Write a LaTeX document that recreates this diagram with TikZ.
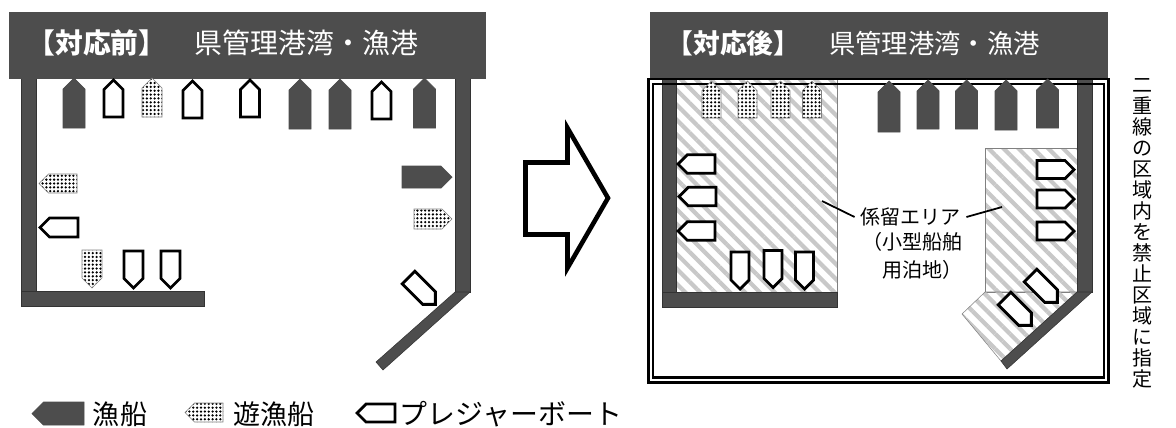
\documentclass[tikz,border=0pt]{standalone}
\usepackage{xcolor}
\usepackage{fontspec}
\setmainfont{Noto Sans CJK JP}
\usetikzlibrary{patterns.meta}
\definecolor{wallgray}{RGB}{77, 77, 77}
\definecolor{stripegray}{RGB}{200, 200, 200}
\newcommand{\boat}[6][]{\draw[#1, shift={(#2,#3)}, rotate=#6] (-#4/2,0) -- (-#4/2,#4/2-#5) -- (0,-#5) -- (#4/2,#4/2-#5) -- (#4/2,0) -- cycle;}

\begin{document}
\begin{tikzpicture}[
        x=0.02cm, y=-0.02cm,
        wall/.style={fill=wallgray, draw=black!80, line width=0.3pt},
        banner/.style={rectangle, fill=wallgray, draw=wallgray, text=white, inner sep=0pt},
        titletext/.style={text=white, inner sep=0pt},
        fishboat/.style={fill=wallgray, draw=black!70, line width=0.4pt},
        yachtboat/.style={fill=white, draw=black, line width=1.6pt, miter limit=4},
        dotboat/.style={preaction={fill=white}, pattern={Dots[distance=2.2pt, radius=0.72pt]}, pattern color=black, draw=gray, line width=0.3pt},
        area/.style={pattern={Lines[angle=-45, distance=6pt, line width=2.4pt]}, pattern color=stripegray, draw=gray, line width=0.3pt},
        label/.style={font=\fontsize{11.4}{15.65}\selectfont, inner sep=0pt},
        legendtext/.style={font=\fontsize{15.4}{18}\selectfont, inner sep=0pt}
    ]
    \useasboundingbox (0,0) rectangle (1176,427);

    % Before: harbour
    \filldraw[wall] (21,78) rectangle (36,292);
    \filldraw[wall] (21,291) rectangle (204,306);
    \filldraw[wall] (455,78) rectangle (470,292);
    \filldraw[wall] (455,292) -- (470,292) -- (383,370) -- (376,362) -- cycle;
    \node[banner, minimum width=476*0.02cm, minimum height=66*0.02cm] (barbefore) at (247.75,45) {};
    \node[titletext, font=\fontsize{15.8}{18}\selectfont\bfseries] (titlebefore) at (97,43) {【対応前】};
    \node[titletext, font=\fontsize{15.9}{18}\selectfont] (portbefore) at (306.5,43) {県管理港湾・漁港};

    % Before: boats
    \boat[fishboat]{74}{128}{22}{50}{0}
    \boat[yachtboat]{113.5}{117}{19}{37}{0}
    \boat[dotboat]{152}{117}{20}{39}{0}
    \boat[yachtboat]{192.5}{118}{19}{37}{0}
    \boat[yachtboat]{250}{117}{19}{37}{0}
    \boat[fishboat]{300}{129}{22}{50}{0}
    \boat[fishboat]{340}{129}{22}{50}{0}
    \boat[yachtboat]{381.5}{119}{19}{37}{0}
    \boat[fishboat]{424.5}{128}{22}{50}{0}
    \boat[dotboat]{77}{183.5}{19}{38}{90}
    \boat[yachtboat]{78}{227.5}{19}{38}{90}
    \boat[fishboat]{402}{177}{22}{50}{-90}
    \boat[dotboat]{414}{219}{20}{38}{-90}
    \boat[dotboat]{92}{250}{20}{38}{180}
    \boat[yachtboat]{133.5}{251}{19}{37}{180}
    \boat[yachtboat]{170.5}{251}{19}{37}{180}
    \boat[yachtboat]{408.5}{277.5}{18}{38}{-135}

    % Arrow
    \draw[line width=2.6pt, miter limit=8, fill=white] (525.5,162.5) -- (567.5,162.5) -- (567.5,128) -- (608,198) -- (567.5,268) -- (567.5,234.5) -- (525.5,234.5) -- cycle;

    % After: mooring areas
    \filldraw[area] (676,78) rectangle (837,292);
    \filldraw[area] (985,148) rectangle (1077,292);
    \filldraw[area] (985,292) -- (1077,292) -- (1001,361) -- (962,314) -- cycle;

    % After: harbour
    \filldraw[wall] (662,78) rectangle (676,292);
    \filldraw[wall] (662,292) rectangle (837,307);
    \filldraw[wall] (1077,78) rectangle (1092,292);
    \filldraw[wall] (1077,292) -- (1092,292) -- (1007,369) -- (1001,361) -- cycle;
    \node[banner, minimum width=457*0.02cm, minimum height=66*0.02cm] (barafter) at (878.5,45) {};
    \node[titletext, font=\fontsize{15.2}{18}\selectfont\bfseries] (titleafter) at (733.5,43) {【対応後】};
    \node[titletext, font=\fontsize{15}{18}\selectfont] (portafter) at (934.5,43) {県管理港湾・漁港};

    % Prohibited zone
    \draw[black, line width=1.7pt] (648,79) rectangle (1108,382);
    \draw[black, line width=1.2pt] (653,84) rectangle (1104,377.5);

    % After: boats
    \boat[dotboat]{711.5}{118}{19}{37}{0}
    \boat[dotboat]{747.5}{118}{19}{37}{0}
    \boat[dotboat]{780.5}{118}{19}{37}{0}
    \boat[dotboat]{812}{118}{19}{37}{0}
    \boat[fishboat]{889}{132}{22}{51}{0}
    \boat[fishboat]{928}{129}{22}{49}{0}
    \boat[fishboat]{966.5}{129}{22}{49}{0}
    \boat[fishboat]{1006}{130}{22}{50}{0}
    \boat[fishboat]{1047.5}{128}{22}{49}{0}
    \boat[yachtboat]{715}{164}{18.5}{37}{90}
    \boat[yachtboat]{716}{196.5}{18.5}{37}{90}
    \boat[yachtboat]{715}{231}{18.5}{37}{90}
    \boat[yachtboat]{740}{252}{18}{37}{180}
    \boat[yachtboat]{773}{250.5}{18}{37}{180}
    \boat[yachtboat]{804.5}{252}{18}{37}{180}
    \boat[yachtboat]{1037}{169.5}{18}{37}{-90}
    \boat[yachtboat]{1037}{199}{18}{37}{-90}
    \boat[yachtboat]{1037}{231}{18}{37}{-90}
    \boat[yachtboat]{1030.5}{275.5}{18}{38}{-135}
    \boat[yachtboat]{1004.5}{298.5}{18}{38}{-135}

    % Labels
    \node[label, inner xsep=5.5*0.02cm] (mooring) at (910.5,217) {係留エリア};
    \node[label, align=left, anchor=north west] (berth) at (862,232) {（小型船舶\\　用泊地）};
    \coordinate (leftarea) at (822,201);
    \coordinate (rightarea) at (1002,207);
    \draw[line width=1pt] (mooring.west) -- (leftarea);
    \draw[line width=1pt] (mooring.east) -- (rightarea);
    \node[label, font=\fontsize{11.4}{11.95}\selectfont, align=center, anchor=north] (zonenote) at (1142,78) {二\\重\\線\\の\\区\\域\\内\\を\\禁\\止\\区\\域\\に\\指\\定};

    % Legend
    \boat[fishboat]{84}{413.5}{23}{52}{90}
    \node[legendtext] (legendfish) at (120,414) {漁船};
    \boat[dotboat]{223}{412.5}{19}{38}{90}
    \node[legendtext] (legendpleasure) at (274,414) {遊漁船};
    \boat[yachtboat]{395}{413}{18}{38}{90}
    \node[legendtext, font=\fontsize{15.9}{18}\selectfont] (legendyacht) at (511,414) {プレジャーボート};
\end{tikzpicture}
\end{document}
